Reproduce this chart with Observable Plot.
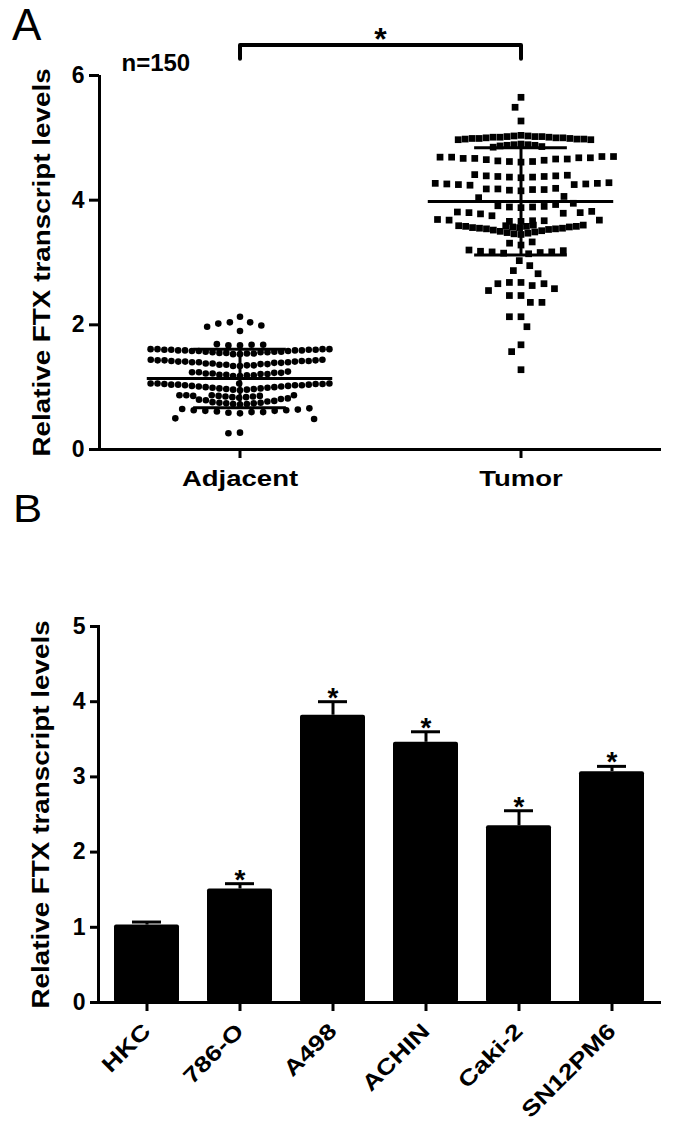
<!DOCTYPE html>
<html>
<head>
<meta charset="utf-8">
<script src="https://cdn.jsdelivr.net/npm/d3@7"></script>
<script src="https://cdn.jsdelivr.net/npm/@observablehq/plot@0.6"></script>
<style>
  html, body { margin: 0; padding: 0; background: #fff; }
  #root { position: relative; width: 675px; height: 1135px; overflow: hidden; background: #fff;
          font-family: "Liberation Sans", Arial, sans-serif; color: #000; }
  #root svg { position: absolute; left: 0; overflow: visible; }
  #root svg g[aria-label="y-axis tick label"] text { font-size: 23px; font-weight: bold; }
  .tag { position: absolute; font-family: "Liberation Sans", Arial, sans-serif; font-weight: normal; line-height: 1; white-space: nowrap; }
</style>
</head>
<body>
<div id="root"></div>
<script>
// ---------- Panel A data ----------
const groups = ["Adjacent", "Tumor"];
const adjacentValues = [
  2.13, 2.04, 2.04, 2.02, 1.99, 1.97, 1.90,
  1.67, 1.67, 1.68, 1.68, 1.69,
  1.53, 1.53, 1.54, 1.54, 1.55, 1.55, 1.56, 1.56, 1.56, 1.57, 1.57, 1.57, 1.58, 1.58, 1.58,
  1.59, 1.59, 1.59, 1.59, 1.60, 1.60, 1.60, 1.60, 1.61, 1.61, 1.61, 1.61,
  1.34, 1.34, 1.35, 1.35, 1.36, 1.36, 1.37, 1.37, 1.38, 1.38, 1.39, 1.39, 1.40, 1.40, 1.40,
  1.41, 1.41, 1.41, 1.42, 1.42, 1.42, 1.43, 1.43, 1.43, 1.44, 1.44,
  1.18, 1.18, 1.19, 1.19, 1.20, 1.20, 1.21, 1.21, 1.22, 1.22, 1.23, 1.23, 1.24, 1.24, 1.25,
  0.95, 0.96, 0.96, 0.97, 0.97, 0.98, 0.98, 0.99, 0.99, 1.00, 1.00, 1.01, 1.01, 1.02, 1.02,
  1.03, 1.03, 1.03, 1.04, 1.04, 1.04, 1.05, 1.05, 1.05, 1.06, 1.06, 1.06, 1.06,
  0.72, 0.73, 0.73, 0.74, 0.74, 0.75, 0.75, 0.76, 0.77, 0.78, 0.79, 0.80, 0.81, 0.82, 0.83,
  0.84, 0.84, 0.85, 0.85, 0.86, 0.86, 0.86, 0.87, 0.87, 0.87, 0.87,
  0.58, 0.59, 0.60, 0.60, 0.61, 0.62, 0.62, 0.63, 0.63, 0.64, 0.65, 0.66,
  0.50, 0.49, 0.27, 0.26
];
const tumorValues = [
  5.65, 5.49, 5.27,
  5.04, 5.03, 5.03, 5.02, 5.02, 5.02, 5.01, 5.01, 5.01, 5.00, 5.00, 5.00, 4.99, 4.99, 4.99, 4.98, 4.98, 4.98, 4.97, 4.97,
  4.90, 4.89, 4.89, 4.88, 4.88, 4.87, 4.86, 4.85,
  4.61, 4.62, 4.62, 4.63, 4.64, 4.65, 4.66, 4.66, 4.67, 4.67, 4.68, 4.68, 4.69, 4.69, 4.70, 4.70,
  4.36, 4.37, 4.37, 4.38, 4.38, 4.39, 4.39, 4.40, 4.41,
  4.24, 4.25, 4.25, 4.26, 4.26, 4.27, 4.27, 4.28,
  4.15, 4.16, 4.17, 4.17, 4.18, 4.18, 4.19,
  4.06, 4.04,
  3.88, 3.89, 3.89, 3.90, 3.91, 3.93, 3.95,
  3.75, 3.78, 3.79, 3.80, 3.80, 3.81, 3.82,
  3.66, 3.66, 3.67, 3.67, 3.68, 3.68, 3.69,
  3.45, 3.46, 3.47, 3.48, 3.49, 3.50, 3.51, 3.52, 3.53, 3.54, 3.54, 3.55, 3.55, 3.56, 3.56,
  3.57, 3.57, 3.58, 3.58, 3.58, 3.59, 3.59, 3.60, 3.60,
  3.28, 3.31, 3.33,
  3.14, 3.15, 3.16, 3.17, 3.17, 3.18, 3.19, 3.20,
  3.03, 2.95, 2.87, 2.82,
  2.68, 2.68, 2.66, 2.66, 2.63, 2.58, 2.55, 2.47, 2.47,
  2.36, 2.36, 2.13, 2.13, 1.97, 1.68, 1.57, 1.28
];
const groupMeans = [1.14, 3.98];
const groupSDs = [0.47, 0.86];
const sampleLabel = "n=150";
const significance = "*";
const yTicksA = [0, 2, 4, 6];
const yLabel = "Relative FTX transcript levels";

// ---------- Panel B data ----------
const cellLines = ["HKC", "786-O", "A498", "ACHIN", "Caki-2", "SN12PM6"];
const cellMeans = [1.03, 1.51, 3.82, 3.46, 2.35, 3.07];
const cellErrors = [0.04, 0.07, 0.18, 0.14, 0.20, 0.07];
const cellStars = ["", "*", "*", "*", "*", "*"];
const yTicksB = [0, 1, 2, 3, 4, 5];

// ---------- build ----------
const font = "Liberation Sans, Arial, Helvetica, sans-serif";
const root = document.getElementById("root");

const pointsA = [
  ...adjacentValues.map(v => ({group: groups[0], value: v})),
  ...tumorValues.map(v => ({group: groups[1], value: v}))
];
const isDense = d => d.group === groups[0]
  ? (d.value >= 0.70 && d.value <= 1.62)
  : ((d.value >= 4.84 && d.value < 5.1) || (d.value >= 3.44 && d.value <= 3.61));
const adjDense = pointsA.filter(d => d.group === groups[0] && isDense(d));
const adjSparse = pointsA.filter(d => d.group === groups[0] && !isDense(d));
const tumDense = pointsA.filter(d => d.group === groups[1] && isDense(d));
const tumSparse = pointsA.filter(d => d.group === groups[1] && !isDense(d));

const stats = groups.map((g, i) => ({group: g, mean: groupMeans[i], sd: groupSDs[i]}));
const meanHalf = 0.66, capHalf = 0.33;
const bracketTop = 6.49, bracketFoot = 6.27;
const bracket = [
  {group: groups[0], x: 0, y: bracketFoot}, {group: groups[0], x: 0, y: bracketTop}, {group: groups[0], x: 1, y: bracketTop},
  {group: groups[1], x: -1, y: bracketTop}, {group: groups[1], x: 0, y: bracketTop}, {group: groups[1], x: 0, y: bracketFoot}
];

const plotA = Plot.plot({
  width: 675, height: 500,
  marginLeft: 98, marginRight: 14, marginTop: 75, marginBottom: 51,
  style: {fontFamily: font, fontWeight: "bold", fontSize: "23px", color: "#000", background: "transparent", overflow: "visible"},
  fx: {domain: groups, paddingInner: 0, paddingOuter: 0, label: null},
  x: {domain: [-1, 1], axis: null},
  y: {domain: [0, 6]},
  marks: [
    Plot.dot(adjDense, Plot.dodgeX({anchor: "middle", padding: 0.3}, {fx: "group", y: "value", r: 3.3, fill: "#000"})),
    Plot.dot(adjSparse, Plot.dodgeX({anchor: "middle", padding: 5}, {fx: "group", y: "value", r: 3.3, fill: "#000"})),
    Plot.dot(tumDense, Plot.dodgeX({anchor: "middle", padding: -0.6}, {fx: "group", y: "value", r: 3.8, symbol: "square", fill: "#000"})),
    Plot.dot(tumSparse, Plot.dodgeX({anchor: "middle", padding: 4}, {fx: "group", y: "value", r: 3.8, symbol: "square", fill: "#000"})),
    Plot.ruleY(stats, {fx: "group", y: "mean", x1: -meanHalf, x2: meanHalf, strokeWidth: 3}),
    Plot.ruleX(stats, {fx: "group", x: 0, y1: d => d.mean - d.sd, y2: d => d.mean + d.sd, strokeWidth: 3}),
    Plot.ruleY(stats, {fx: "group", y: d => d.mean - d.sd, x1: -capHalf, x2: capHalf, strokeWidth: 3}),
    Plot.ruleY(stats, {fx: "group", y: d => d.mean + d.sd, x1: -capHalf, x2: capHalf, strokeWidth: 3}),
    Plot.line(bracket, {fx: "group", x: "x", y: "y", z: "group", strokeWidth: 4}),
    Plot.text([significance], {fx: () => groups[0], x: 1, y: bracketTop, text: d => d, dy: -5, lineAnchor: "middle", fontSize: 32, fontWeight: "bold"}),
    Plot.text([sampleLabel], {fx: () => groups[0], x: -1, y: 6.2, text: d => d, dx: 22, textAnchor: "start", lineAnchor: "middle", fontSize: 24, fontWeight: "bold"}),
    Plot.ruleY([0], {strokeWidth: 3}),
    Plot.ruleX([groups[0]], {fx: d => d, x: -1, y1: 0, y2: 6, strokeWidth: 3}),
    Plot.axisY({ticks: yTicksA, tickFormat: "d", tickSize: 10, tickPadding: 5, strokeWidth: 3, fontSize: 23,
                label: yLabel, labelAnchor: "center", labelOffset: 66, labelArrow: "none"}),
    Plot.axisFx({anchor: "bottom", tickSize: 9, tickPadding: 12, strokeWidth: 3, fontSize: 22, label: null})
  ]
});
plotA.style.top = "0px";
root.appendChild(plotA);

const bars = cellLines.map((c, i) => ({cell: c, mean: cellMeans[i], err: cellErrors[i], star: cellStars[i]}));
const plotB = Plot.plot({
  width: 675, height: 635,
  marginLeft: 98, marginRight: 14, marginTop: 126, marginBottom: 133,
  style: {fontFamily: font, fontWeight: "bold", fontSize: "23px", color: "#000", background: "transparent", overflow: "visible"},
  x: {domain: cellLines, paddingInner: 0.3, paddingOuter: 0.15, label: null},
  y: {domain: [0, 5]},
  marks: [
    Plot.barY(bars, {x: "cell", y: "mean", fill: "#000", rx: 2}),
    Plot.ruleX(bars, {x: "cell", y1: "mean", y2: d => d.mean + d.err, strokeWidth: 3}),
    Plot.tickY(bars, {x: "cell", y: d => d.mean + d.err, strokeWidth: 3, inset: 18}),
    Plot.text(bars, {x: "cell", y: d => d.mean + d.err, text: "star", dy: -4, lineAnchor: "middle", fontSize: 28, fontWeight: "bold"}),
    Plot.ruleY([0], {strokeWidth: 3}),
    Plot.frame({anchor: "left", strokeWidth: 3}),
    Plot.axisY({ticks: yTicksB, tickFormat: "d", tickSize: 8, tickPadding: 5, strokeWidth: 3, fontSize: 23,
                label: yLabel, labelAnchor: "center", labelOffset: 66, labelArrow: "none"}),
    Plot.axisX({tickSize: 9, tickPadding: 16, tickRotate: -45, strokeWidth: 3, fontSize: 22, label: null})
  ]
});
plotB.style.top = "500px";
root.appendChild(plotB);

// panel tags
const tagA = document.createElement("div");
tagA.className = "tag"; tagA.textContent = "A";
tagA.style.cssText += "left:12px;top:3px;font-size:44px;";
root.appendChild(tagA);
const tagB = document.createElement("div");
tagB.className = "tag"; tagB.textContent = "B";
tagB.style.cssText += "left:13px;top:490px;font-size:38px;transform:scaleX(1.15);transform-origin:left top;";
root.appendChild(tagB);

// widen label glyphs like the reference
function stretch(svg, selector, k) {
  svg.querySelectorAll(selector).forEach(t => {
    const L = t.getComputedTextLength();
    if (L > 0) {
      t.setAttribute("textLength", (L * k).toFixed(1));
      t.setAttribute("lengthAdjust", "spacingAndGlyphs");
    }
  });
}
stretch(plotA, 'g[aria-label="y-axis label"] text', 1.21);
stretch(plotA, 'g[aria-label="fx-axis tick label"] text', 1.25);
stretch(plotB, 'g[aria-label="y-axis label"] text', 1.21);
stretch(plotB, 'g[aria-label="x-axis tick label"] text', 1.22);
</script>
</body>
</html>
